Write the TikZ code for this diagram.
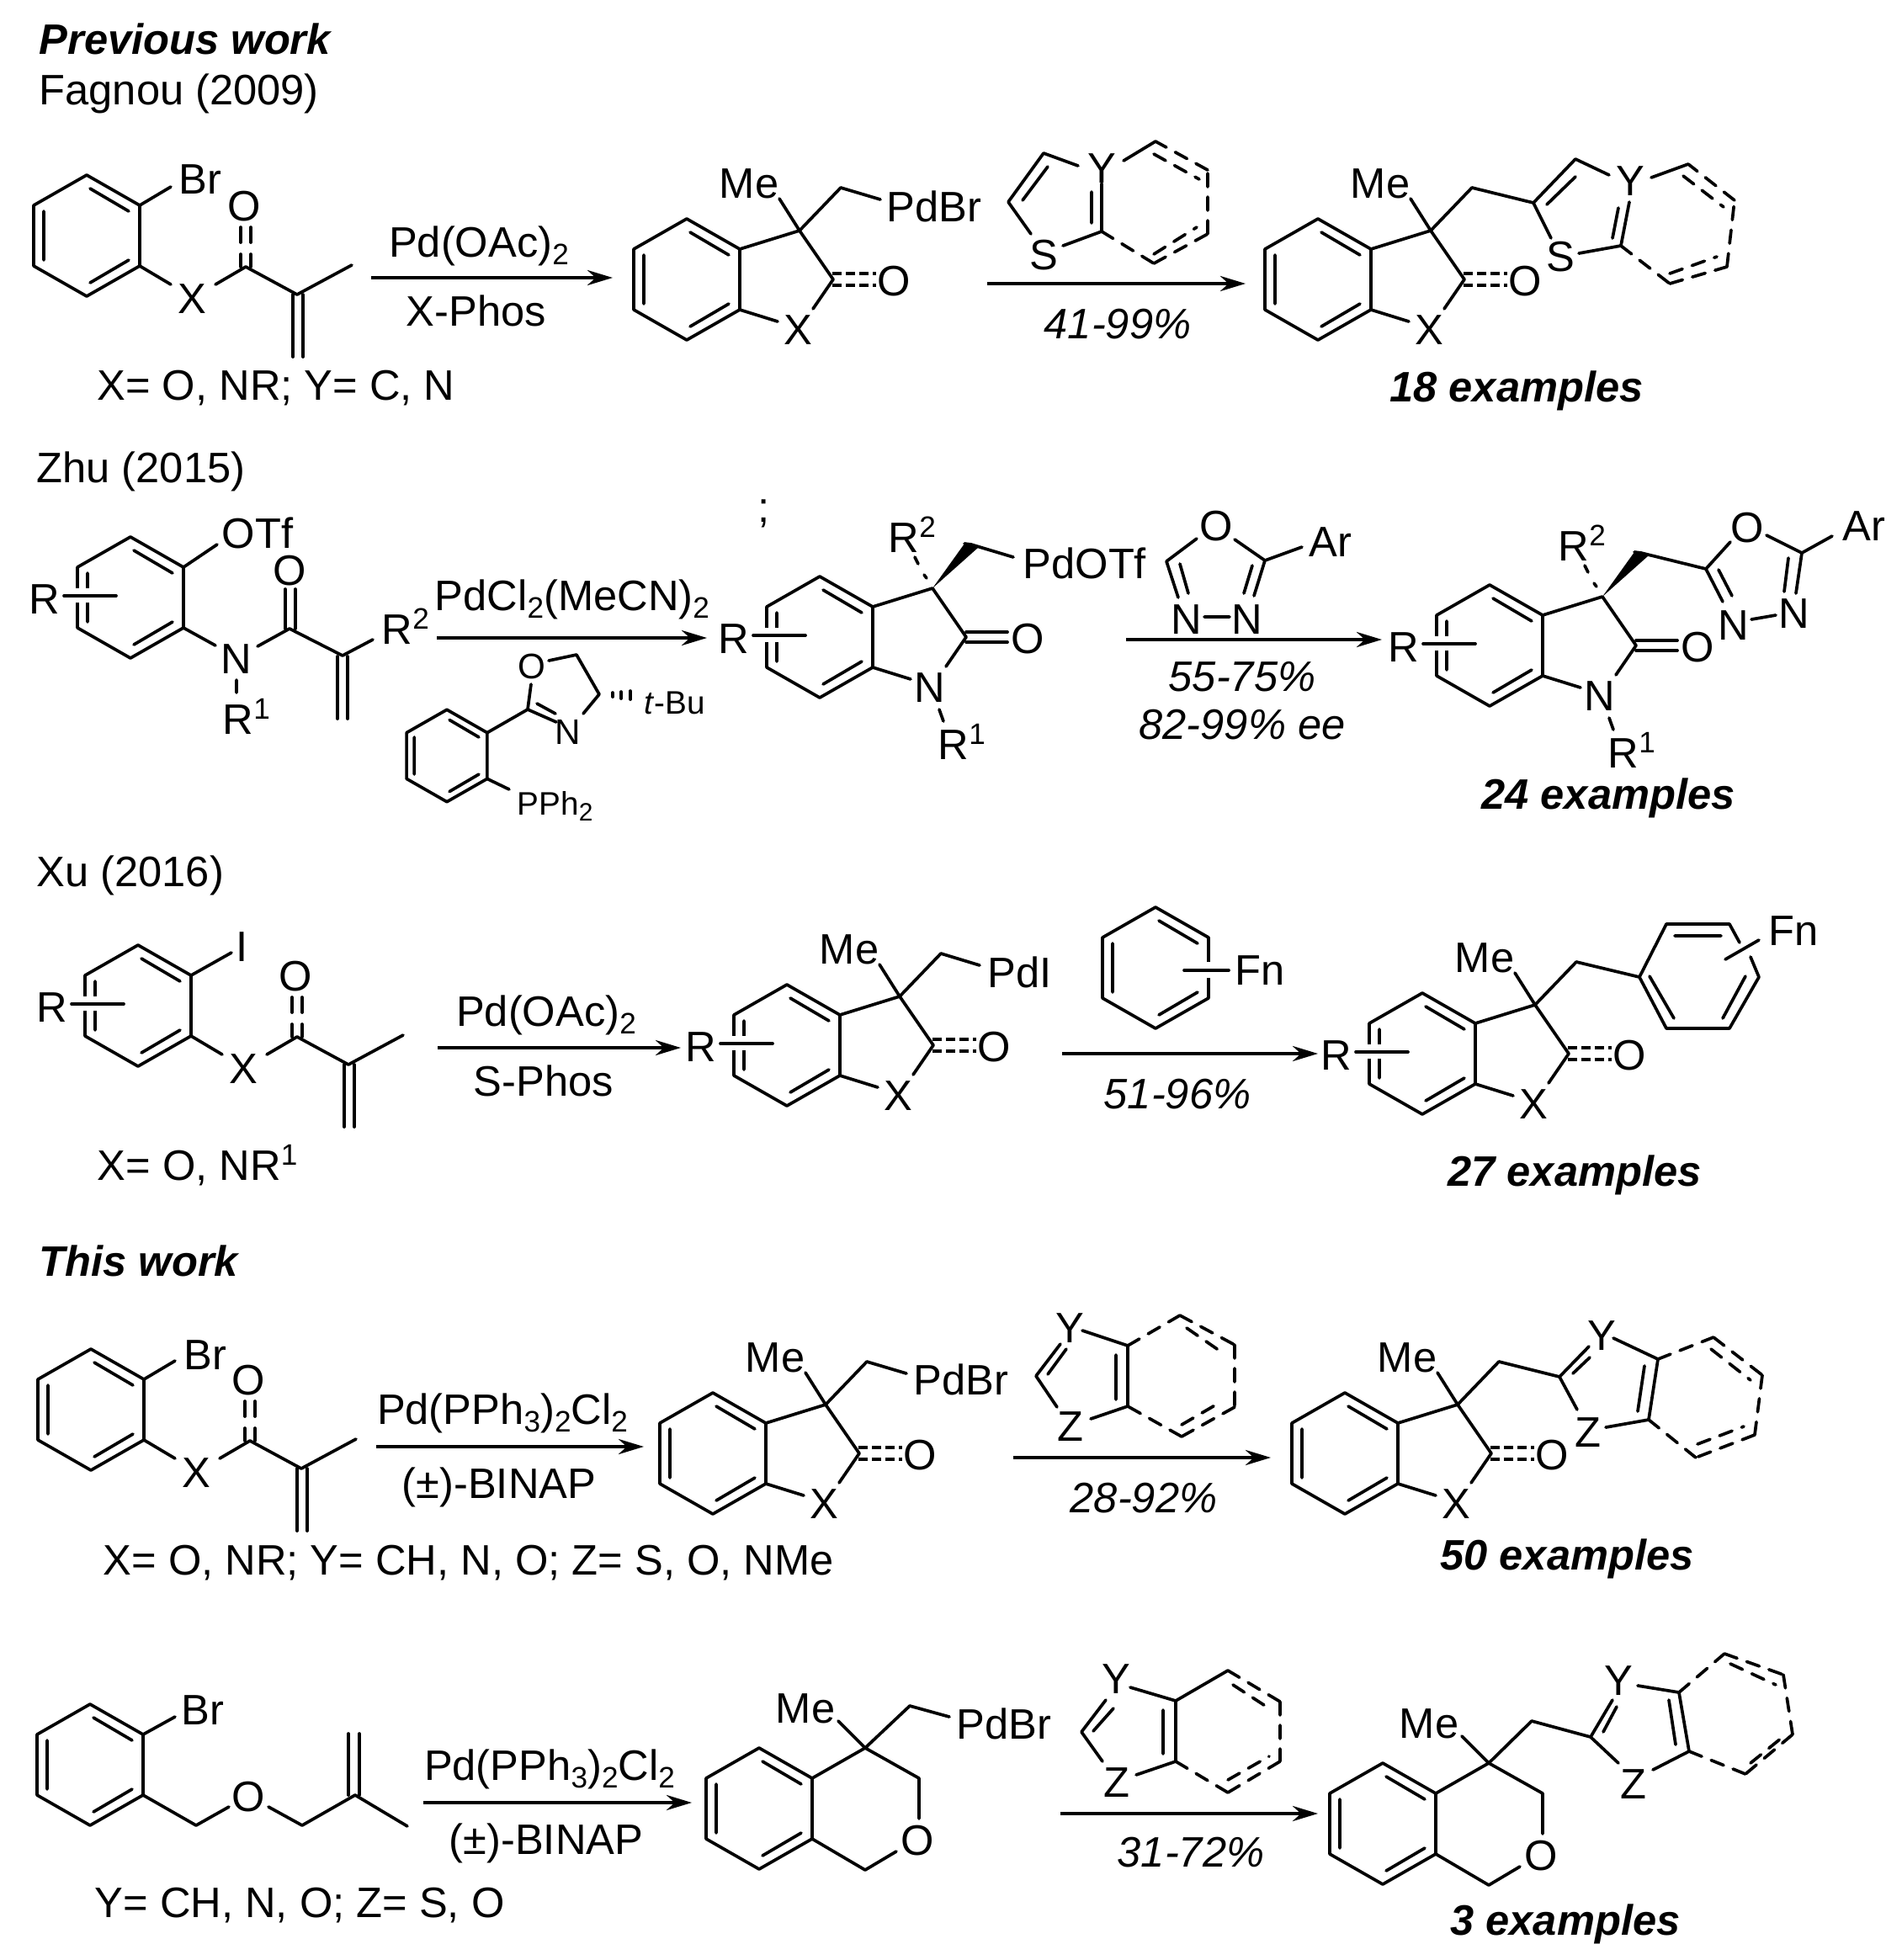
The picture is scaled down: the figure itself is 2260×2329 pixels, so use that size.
\documentclass[tikz,border=0pt]{standalone}
\usepackage{fontspec}
\setmainfont{Liberation Sans}
\usetikzlibrary{arrows.meta}
\newcommand{\lblfont}{\fontsize{14.4}{16}\selectfont}
\newcommand{\sbs}[1]{\raisebox{-2.8pt}{\fontsize{10}{10}\selectfont #1}}
\newcommand{\sps}[1]{\raisebox{5pt}{\fontsize{10}{10}\selectfont #1}}
\tikzset{
	bond/.style={line width=1.05pt},
	dbond/.style={line width=1.05pt,dash pattern=on 1.6mm off 1.2mm},
	cdash/.style={line width=1.05pt,line cap=butt,dash pattern=on 1.1mm off .5mm},
	rxn/.style={line width=1.2pt,line cap=butt,-{Stealth[length=3mm,width=1.8mm]}},
	atom/.style={font=\lblfont,inner sep=0pt},
	tag/.style={atom,anchor=base west},
	lab/.style={atom,anchor=base},
	yld/.style={atom,anchor=base,font=\lblfont\itshape},
	count/.style={atom,anchor=base,font=\lblfont\bfseries\itshape},
	head/.style={tag,font=\lblfont\bfseries\itshape},
	small/.style={inner sep=0pt,font=\fontsize{11}{12}\selectfont}
}
\newcommand{\benzo}[3]{
	\begin{scope}[shift={(#2,#3)}]
		\coordinate (#1a) at (0,-72);
		\coordinate (#1b) at (63,-36);
		\coordinate (#1c) at (63,36);
		\coordinate (#1d) at (0,72);
		\coordinate (#1e) at (-63,36);
		\coordinate (#1f) at (-63,-36);
		\draw[bond] (#1a)--(#1b)--(#1c)--(#1d)--(#1e)--(#1f)--cycle;
		\draw[bond] (4,-56)--(50,-29) (4,56)--(50,29) (-51,-29)--(-51,29);
	\end{scope}
}
\newcommand{\rsub}[3]{
	\begin{scope}[shift={(#2,#3)}]
		\node[atom] (#1r) at (-102,2) {R};
		\fill[white] (-70,-11) rectangle (-44,6);
		\draw[bond] (-79,-2)--(-17,-2);
	\end{scope}
}
\newcommand{\lactam}[3]{
	\benzo{#1}{#2}{#3}
	\begin{scope}[shift={(#2,#3)}]
		\coordinate (#1q) at (134,-58);
		\coordinate (#1k) at (174,0);
		\draw[bond] (#1b)--(#1q)--(#1k)--(150,35) (#1c)--(108,50);
	\end{scope}
}
\newcommand{\mecore}[3]{
	\lactam{#1}{#2}{#3}
	\begin{scope}[shift={(#2,#3)}]
		\node[atom] (#1me) at (74,-114) {Me};
		\node[atom] (#1x) at (132,60) {X};
		\node[atom] (#1o) at (246,2) {O};
		\coordinate (#1ch) at (183,-109);
		\draw[bond] (#1q)--(110,-96) (#1q)--(#1ch);
		\draw[cdash] (173,-7)--(225,-7) (173,7)--(225,7);
	\end{scope}
}
\newcommand{\ncore}[3]{
	\lactam{#1}{#2}{#3}
	\rsub{#1}{#2}{#3}
	\begin{scope}[shift={(#2,#3)}]
		\node[tag] (#1rb) at (81,-101) {R\sps{2}};
		\node[atom] (#1n) at (131,60) {N};
		\node[tag] (#1ra) at (140,145) {R\sps{1}};
		\node[atom] (#1o) at (247,2) {O};
		\coordinate (#1ch) at (180,-110);
		\fill (#1q)--(172,-111)--(189,-107)--cycle;
		\draw[bond] (172,-111)--(#1ch);
		\draw[bond] (127,-70)--(124,-74) (117,-87)--(113,-95);
		\draw[bond] (174,-6)--(223,-6) (174,6)--(223,6);
		\draw[bond] (142,86)--(147,100);
	\end{scope}
}
\newcommand{\acrylate}[3]{
	\benzo{#1}{#2}{#3}
	\begin{scope}[shift={(#2,#3)}]
		\node[atom] (#1x) at (125,75) {X};
		\node[atom] (#1o) at (187,-35) {O};
		\coordinate (#1k) at (189,37);
		\coordinate (#1v) at (250,70);
		\draw[bond] (#1c)--(100,58) (153,58)--(#1k)--(#1v)--(315,35);
		\draw[bond] (183,-10)--(183,8) (195,-10)--(195,8) (183,22)--(183,37) (195,22)--(195,37);
		\draw[bond] (245,70)--(245,144) (257,70)--(257,144);
	\end{scope}
}
\begin{document}
\begin{tikzpicture}[x=0.01cm,y=-0.01cm,line join=round,line cap=round]
	\useasboundingbox (0,0) rectangle (2260,2329);
	\node[head] (prev) at (46,64) {Previous work};
	\node[tag] (fag) at (46,124) {Fagnou (2009)};
	\acrylate{sma}{103}{280}
	\node[atom] (smabr) at (238,213) {Br};
	\draw[bond] (smab)--(203,222);
	\node[lab] (smatxt) at (328,475) {X= O, NR; Y= C, N};
	\coordinate (ras) at (441,330);
	\coordinate (rae) at (728,330);
	\draw[rxn] (ras)--(rae);
	\node[lab] (raup) at (569,305) {Pd(OAc)\sbs{2}};
	\node[lab] (radn) at (566,387) {X-Phos};
	\mecore{pa}{816}{332}
	\node[atom,anchor=west] (papd) at (1053,245) {PdBr};
	\draw[bond] (pach)--(1046,237);
	\node[atom] (rts) at (1240,303) {S};
	\node[atom] (rty) at (1309,200) {Y};
	\draw[bond] (1335,191)--(1373,168) (1281,197)--(1240,182)--(1198,240)--(1225,278) (1263,292)--(1309,275) (1309,218)--(1309,275) (1215,238)--(1245,198) (1297,228)--(1297,265);
	\draw[dbond] (1309,275)--(1371,313) (1371,313)--(1435,278) (1435,278)--(1435,202) (1435,202)--(1373,168) (1371,302)--(1422,270) (1371,183)--(1425,213);
	\coordinate (rbs) at (1173,337);
	\coordinate (rbe) at (1480,337);
	\draw[rxn] (rbs)--(rbe);
	\node[yld] (rblab) at (1328,402) {41-99\%};
	\mecore{pb}{1566}{332}
	\node[atom] (pbs) at (1854,305) {S};
	\node[atom] (pby) at (1937,215) {Y};
	\draw[bond] (pbch)--(1822,241)--(1872,189)--(1912,208) (1838,243)--(1872,210) (1822,241)--(1843,283) (1876,301)--(1926,292)--(1936,240) (1923,247)--(1916,283) (1962,211)--(2006,195);
	\draw[dbond] (1926,292)--(1984,337) (1984,337)--(2052,317) (2052,317)--(2061,238) (2061,238)--(2006,195) (1984,325)--(2040,305) (2000,209)--(2048,246);
	\node[count] (cnta) at (1802,477) {18 examples};

	\node[tag] (zhu) at (43,573) {Zhu (2015)};
	\node[atom] (semi) at (908,610) {;};
	\benzo{smb}{155}{710}
	\rsub{smb}{155}{710}
	\node[atom,anchor=west] (smbotf) at (263,633) {OTf};
	\node[atom] (smbn) at (281,783) {N};
	\node[atom] (smbo) at (344,678) {O};
	\node[tag] (smbrb) at (453,765) {R\sps{2}};
	\node[tag] (smbra) at (264,872) {R\sps{1}};
	\draw[bond] (smbb)--(258,647) (smbc)--(256,767) (306,768)--(344,747)--(407,779)--(443,760) (281,808)--(281,823);
	\draw[bond] (339,700)--(339,747) (351,700)--(351,747) (401,780)--(401,854) (413,780)--(413,854);
	\coordinate (rcs) at (519,758);
	\coordinate (rce) at (840,758);
	\draw[rxn] (rcs)--(rce);
	\node[lab] (rcup) at (680,725) {PdCl\sbs{2}(MeCN)\sbs{2}};
	\begin{scope}[shift={(531,898)},scale=.76]
		\benzo{lig}{0}{0}
	\end{scope}
	\node[small,anchor=west] (ligp) at (614,958) {PPh\raisebox{-2pt}{\fontsize{8.5}{9}\selectfont 2}};
	\node[small,anchor=west] (ligtb) at (765,835) {\textit{t}-Bu};
	\node[atom,font=\fontsize{12}{14}\selectfont] (lign) at (675,870) {N};
	\node[atom,font=\fontsize{12}{14}\selectfont] (ligo) at (632,792) {O};
	\draw[bond] (ligc)--(605,938) (ligb)--(627,843)--(661,858) (638,836)--(660,848) (693,848)--(712,825)--(685,778)--(652,785) (631,813)--(627,843);
	\draw[bond] (728,823)--(728,828) (738,822)--(738,830) (749,821)--(749,831);
	\ncore{pc}{974}{757}
	\node[atom,anchor=west] (pcpd) at (1215,669) {PdOTf};
	\draw[bond] (pcch)--(1204,662);
	\node[atom] (rho) at (1445,625) {O};
	\node[atom] (rhna) at (1410,736) {N};
	\node[atom] (rhnb) at (1482,736) {N};
	\node[atom,anchor=west] (rhar) at (1555,644) {Ar};
	\draw[bond] (1422,640)--(1386,667)--(1400,710) (1402,670)--(1412,705) (1467,641)--(1503,666)--(1490,708) (1488,672)--(1478,705) (1503,666)--(1547,650) (1431,733)--(1461,733);
	\coordinate (rds) at (1338,760);
	\coordinate (rde) at (1642,760);
	\draw[rxn] (rds)--(rde);
	\node[yld] (rdla) at (1476,821) {55-75\%};
	\node[yld] (rdlb) at (1476,878) {82-99\% ee};
	\ncore{pd}{1770}{767}
	\node[atom] (pdoo) at (2076,627) {O};
	\node[atom] (pdna) at (2060,743) {N};
	\node[atom] (pdnb) at (2132,729) {N};
	\node[atom,anchor=west] (pdar) at (2189,625) {Ar};
	\draw[bond] (pdch)--(2027,676)--(2056,644) (2027,676)--(2047,715) (2042,677)--(2058,708) (2099,636)--(2141,657)--(2177,637) (2141,657)--(2134,705) (2125,663)--(2120,703) (2081,736)--(2110,731);
	\node[count] (cntb) at (1911,961) {24 examples};

	\node[tag] (xu) at (43,1053) {Xu (2016)};
	\acrylate{smc}{164}{1195}
	\rsub{smc}{164}{1195}
	\node[atom] (smci) at (288,1125) {I};
	\draw[bond] (smcb)--(275,1132);
	\node[tag] (smctxt) at (115,1402) {X= O, NR\sps{1}};
	\coordinate (res) at (520,1245);
	\coordinate (ree) at (809,1245);
	\draw[rxn] (res)--(ree);
	\node[lab] (reup) at (649,1219) {Pd(OAc)\sbs{2}};
	\node[lab] (redn) at (646,1302) {S-Phos};
	\mecore{pe}{935}{1242}
	\rsub{pe}{935}{1242}
	\node[atom,anchor=west] (pepd) at (1173,1155) {PdI};
	\draw[bond] (pech)--(1164,1147);
	\benzo{rgf}{1373}{1150}
	\fill[white] (1425,1143) rectangle (1445,1162);
	\node[atom,anchor=west] (rgfn) at (1467,1153) {Fn};
	\draw[bond] (1407,1153)--(1460,1153);
	\coordinate (rfs) at (1262,1252);
	\coordinate (rfe) at (1566,1252);
	\draw[rxn] (rfs)--(rfe);
	\node[yld] (rflab) at (1399,1317) {51-96\%};
	\mecore{pf}{1690}{1252}
	\rsub{pf}{1690}{1252}
	\draw[bond] (pfch)--(1948,1161)--(1980,1098)--(2055,1098)--(2067,1120) (2080,1137)--(2090,1161)--(2055,1222)--(1980,1222)--(1948,1161);
	\draw[bond] (1990,1112)--(2045,1112) (1960,1160)--(1989,1210) (2074,1160)--(2047,1210) (2050,1140)--(2090,1117);
	\node[atom,anchor=west] (pffn) at (2101,1106) {Fn};
	\node[count] (cntc) at (1871,1409) {27 examples};

	\node[head] (this) at (46,1516) {This work};
	\acrylate{smd}{108}{1675}
	\node[atom] (smdbr) at (244,1610) {Br};
	\draw[bond] (smdb)--(208,1617);
	\node[tag] (smdtxt) at (122,1871) {X= O, NR; Y= CH, N, O; Z= S, O, NMe};
	\coordinate (rg1) at (447,1719);
	\coordinate (rg2) at (765,1719);
	\draw[rxn] (rg1)--(rg2);
	\node[lab] (rgup) at (597,1692) {Pd(PPh\sbs{3})\sbs{2}Cl\sbs{2}};
	\node[lab] (rgdn) at (593,1780) {(±)-BINAP};
	\mecore{pg}{847}{1727}
	\node[atom,anchor=west] (pgpd) at (1085,1639) {PdBr};
	\draw[bond] (pgch)--(1077,1632);
	\node[atom] (rzy) at (1271,1578) {Y};
	\node[atom] (rzz) at (1272,1695) {Z};
	\draw[bond] (1260,1597)--(1231,1635)--(1256,1672) (1267,1603)--(1245,1633) (1296,1686)--(1340,1671)--(1340,1599)--(1286,1581) (1326,1610)--(1326,1663);
	\draw[dbond] (1340,1599)--(1402,1563) (1402,1563)--(1467,1598) (1467,1598)--(1467,1672) (1467,1672)--(1404,1707) (1404,1707)--(1340,1671) (1410,1578)--(1452,1607) (1404,1693)--(1452,1665);
	\coordinate (rhs) at (1204,1732);
	\coordinate (rhe) at (1510,1732);
	\draw[rxn] (rhs)--(rhe);
	\node[yld] (rhlab) at (1359,1797) {28-92\%};
	\mecore{ph}{1598}{1727}
	\node[atom] (phy) at (1903,1587) {Y};
	\node[atom] (phz) at (1887,1702) {Z};
	\draw[bond] (phch)--(1853,1636)--(1888,1600) (1869,1632)--(1889,1613) (1853,1636)--(1874,1675) (1908,1696)--(1959,1687)--(1970,1615)--(1917,1590) (1954,1623)--(1946,1677);
	\draw[dbond] (1970,1615)--(2036,1589) (2036,1589)--(2094,1634) (2094,1634)--(2085,1705) (2085,1705)--(2015,1732) (2015,1732)--(1959,1687) (2033,1603)--(2080,1640) (2017,1716)--(2072,1695);
	\node[count] (cntd) at (1862,1865) {50 examples};

	\benzo{sme}{107}{2097}
	\node[atom] (smebr) at (241,2032) {Br};
	\node[atom] (smeo) at (295,2135) {O};
	\draw[bond] (smeb)--(208,2040) (smec)--(233,2169)--(272,2147) (319,2147)--(359,2169)--(422,2133)--(484,2170);
	\draw[bond] (414,2133)--(414,2060) (427,2133)--(427,2060);
	\node[tag] (smetxt) at (112,2278) {Y= CH, N, O; Z= S, O};
	\coordinate (ris) at (503,2142);
	\coordinate (rie) at (822,2142);
	\draw[rxn] (ris)--(rie);
	\node[lab] (riup) at (653,2115) {Pd(PPh\sbs{3})\sbs{2}Cl\sbs{2}};
	\node[lab] (ridn) at (649,2203) {(±)-BINAP};
	\benzo{pi}{902}{2149}
	\node[atom] (pime) at (957,2030) {Me};
	\node[atom] (pio) at (1090,2187) {O};
	\node[atom,anchor=west] (pipd) at (1136,2048) {PdBr};
	\coordinate (piq) at (1028,2077);
	\draw[bond] (pib)--(piq)--(996,2045) (piq)--(1081,2027)--(1128,2040) (piq)--(1092,2113)--(1092,2161) (1065,2200)--(1028,2222)--(pic);
	\node[atom] (rjy) at (1326,1995) {Y};
	\node[atom] (rjz) at (1327,2118) {Z};
	\draw[bond] (1314,2020)--(1285,2058)--(1310,2093) (1323,2030)--(1299,2057) (1350,2109)--(1397,2093)--(1397,2021)--(1343,2005) (1382,2032)--(1382,2084) (1397,2021)--(1459,1985);
	\draw[dbond] (1459,1985)--(1521,2022) (1521,2022)--(1521,2093) (1521,2093)--(1459,2130) (1459,2130)--(1397,2093) (1465,2002)--(1508,2030) (1459,2115)--(1508,2087);
	\coordinate (rjs) at (1260,2155);
	\coordinate (rje) at (1566,2155);
	\draw[rxn] (rjs)--(rje);
	\node[yld] (rjlab) at (1415,2218) {31-72\%};
	\benzo{pj}{1643}{2167}
	\node[atom] (pjme) at (1698,2048) {Me};
	\node[atom] (pjo) at (1831,2205) {O};
	\node[atom] (pjy) at (1923,1997) {Y};
	\node[atom] (pjz) at (1941,2120) {Z};
	\coordinate (pjq) at (1769,2095);
	\draw[bond] (pjb)--(pjq)--(1737,2063) (pjq)--(1820,2045)--(1890,2064)--(1916,2020) (1905,2058)--(1921,2028) (1890,2064)--(1923,2095) (1964,2103)--(2007,2081)--(1995,2011)--(1946,2003) (1983,2020)--(1991,2073);
	\draw[bond] (pjq)--(1833,2131)--(1833,2179) (1806,2218)--(1769,2240)--(pjc);
	\draw[dbond] (1995,2011)--(2049,1965) (2049,1965)--(2119,1990) (2119,1990)--(2130,2061) (2130,2061)--(2074,2108) (2074,2108)--(2007,2081) (2056,1977)--(2110,2002) (2080,2095)--(2117,2065);
	\node[count] (cnte) at (1860,2299) {3 examples};
\end{tikzpicture}
\end{document}
